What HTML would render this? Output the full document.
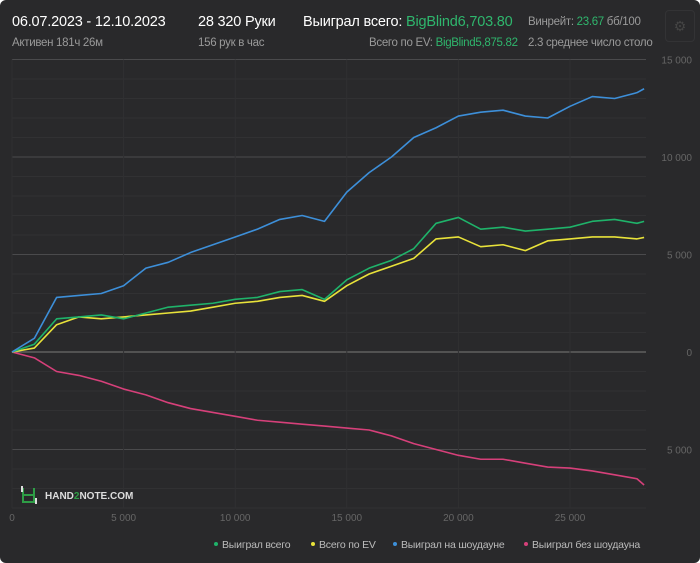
<!DOCTYPE html>
<html><head><meta charset="utf-8"><style>
html,body{margin:0;padding:0;background:#fff;}
#card{position:relative;width:700px;height:563px;background:#29292b;border-radius:6px;overflow:hidden;font-family:"Liberation Sans",sans-serif;}
.t{position:absolute;white-space:nowrap;}
.w{color:#fff;font-size:14.5px;letter-spacing:-0.2px;}
.g{color:#9a9a9a;font-size:11.5px;letter-spacing:-0.3px;}
.gr{color:#2fb66d;}
</style></head><body>
<div id="card">
<div class="t w" style="left:12px;top:14px">06.07.2023 - 12.10.2023</div>
<div class="t g" style="left:12px;top:37px">Активен 181ч 26м</div>
<div class="t w" style="left:198px;top:14px">28 320 Руки</div>
<div class="t g" style="left:198px;top:37px">156 рук в час</div>
<div class="t w" style="left:303px;top:14px">Выиграл всего: <span class="gr">BigBlind6,703.80</span></div>
<div class="t g" style="left:369px;top:37px">Всего по EV: <span class="gr">BigBlind5,875.82</span></div>
<div class="t g" style="left:528px;top:16px">Винрейт: <span class="gr">23.67</span> бб/100</div>
<div class="t g" style="left:528px;top:37px;width:125px;overflow:hidden">2.3 среднее число столов</div>
<div class="t" style="left:665px;top:10px;width:28px;height:30px;border:1px solid #333335;border-radius:4px;color:#444;font-size:14px;text-align:center;line-height:30px">⚙</div>
<svg id="chart" width="700" height="563" style="position:absolute;left:0;top:0"></svg>
</div>
<script>
const hands=[0,1000,2000,3000,4000,5000,6000,7000,8000,9000,10000,11000,12000,13000,14000,15000,16000,17000,18000,19000,20000,21000,22000,23000,24000,25000,26000,27000,28000,28320];
const showdown=[0,700,2800,2900,3000,3400,4300,4600,5100,5500,5900,6300,6800,7000,6700,8200,9200,10000,11000,11500,12100,12300,12400,12100,12000,12600,13100,13000,13300,13500];
const total=[0,400,1700,1800,1900,1700,2000,2300,2400,2500,2700,2800,3100,3200,2700,3700,4300,4700,5300,6600,6900,6300,6400,6200,6300,6400,6700,6800,6600,6700];
const ev=[0,200,1400,1800,1700,1800,1900,2000,2100,2300,2500,2600,2800,2900,2600,3400,4000,4400,4800,5800,5900,5400,5500,5200,5700,5800,5900,5900,5800,5875];
const nonShowdown=[0,-300,-1000,-1200,-1500,-1900,-2200,-2600,-2900,-3100,-3300,-3500,-3600,-3700,-3800,-3900,-4000,-4300,-4700,-5000,-5300,-5500,-5500,-5700,-5900,-5950,-6100,-6300,-6500,-6820];
const xTicks=[0,5000,10000,15000,20000,25000];
const xTickLabels=["0","5 000","10 000","15 000","20 000","25 000"];
const yTicks=[15000,10000,5000,0,-5000];
const yTickLabels=["15 000","10 000","5 000","0","5 000"];
const NS="http://www.w3.org/2000/svg";
const svg=document.getElementById('chart');
const X0=12,X1=646,Y0=352,K=0.0195;
const xs=v=>X0+v*0.02232;
const ys=v=>Y0-v*K;
function mk(t,a){const e=document.createElementNS(NS,t);for(const k in a)e.setAttribute(k,a[k]);svg.appendChild(e);return e;}
for(let v=15000;v>=-8000;v-=1000){
 const major=v%5000===0;
 const l=mk('line',{x1:X0,x2:X1,y1:ys(v),y2:ys(v),stroke:v===0?'#7a7a7a':(major?'#4a4a4c':'#313133'),'stroke-width':1});
 
 
}
xTicks.forEach((v,i)=>{
 const l=mk('line',{x1:xs(v),x2:xs(v),y1:ys(15000),y2:ys(-8000),stroke:'#303032'});
 
 
 const t=mk('text',{x:xs(v),y:521,fill:'#666','font-size':10,'text-anchor':'middle','font-family':'Liberation Sans'});
 t.textContent=xTickLabels[i];
 
 
});
yTicks.forEach((v,i)=>{
 const t=mk('text',{x:692,y:ys(v)+4,fill:'#666','font-size':10,'text-anchor':'end','font-family':'Liberation Sans'});
 t.textContent=yTickLabels[i];
 
 
});
const series=[[nonShowdown,'#d6407a','line-non-showdown'],[ev,'#e8e23a','line-ev'],[total,'#1fb36a','line-total-won'],[showdown,'#3d8fd9','line-showdown']];
series.forEach(([d,c,n])=>{
 const p=mk('polyline',{points:d.map((v,i)=>xs(hands[i])+','+ys(v)).join(' '),fill:'none',stroke:c,'stroke-width':1.6,'stroke-linejoin':'round'});
 
 
});
const lg=mk('g',{});


lg.innerHTML='<path d="M23 488v7h11v7h-11v-7M34 488v7" stroke="#2e9d46" stroke-width="2" fill="none"/><line x1="22" y1="486" x2="22" y2="492" stroke="#ddd" stroke-width="2"/><line x1="36" y1="498" x2="36" y2="504" stroke="#ddd" stroke-width="2"/><text x="45" y="499" fill="#ddd" font-size="10" font-weight="bold" font-family="Liberation Sans">HAND<tspan fill="#2e9d46">2</tspan>NOTE.COM</text>';
const leg=[['Выиграл всего','#1fb36a',216],['Всего по EV','#e8e23a',313],['Выиграл на шоудауне','#3d8fd9',395],['Выиграл без шоудауна','#d6407a',526]];
leg.forEach(([t,c,x])=>{
 const g=mk('g',{});
 
 
 g.innerHTML='<circle cx="'+(x)+'" cy="544" r="2" fill="'+c+'"/><text x="'+(x+6)+'" y="548" fill="#bbb" font-size="10.5" letter-spacing="-0.2" font-family="Liberation Sans">'+t+'</text>';
});
</script>
</body></html>
